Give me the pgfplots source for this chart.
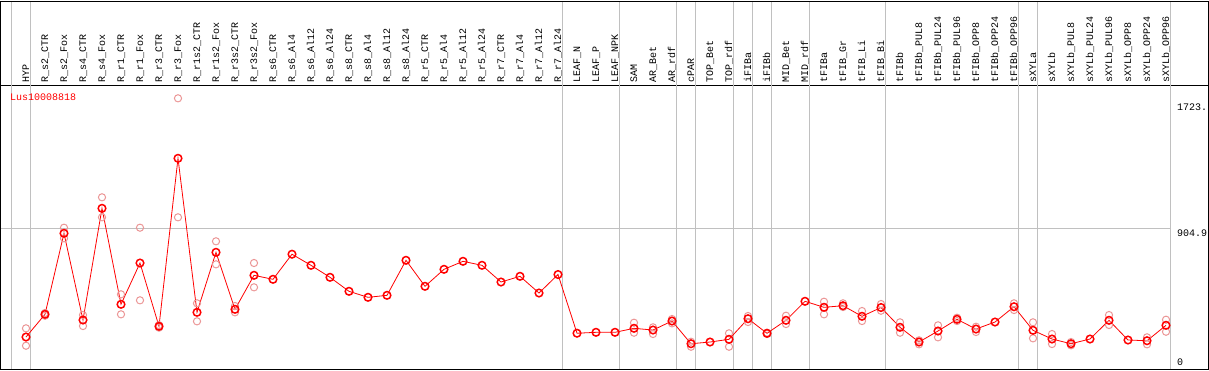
\documentclass[border=0pt]{standalone}
\usepackage{fontspec}
\setmainfont{Liberation Mono}
\usepackage{pgfplots}
\pgfplotsset{compat=1.18}
\definecolor{faint}{RGB}{235,150,150}
\definecolor{gridgray}{RGB}{192,192,192}
\begin{document}
\begin{tikzpicture}
\begin{axis}[
  scale only axis, width=1207pt, height=284pt,
  xmin=-1.31579, xmax=62.2105, ymin=19.5, ymax=1806.8,
  axis line style={line width=1pt},
  xtick={0,...,60},
  xticklabels={HYP,R\_s2\_CTR,R\_s2\_Fox,R\_s4\_CTR,R\_s4\_Fox,R\_r1\_CTR,R\_r1\_Fox,R\_r3\_CTR,R\_r3\_Fox,R\_r1s2\_CTR,R\_r1s2\_Fox,R\_r3s2\_CTR,R\_r3s2\_Fox,R\_s6\_CTR,R\_s6\_Al4,R\_s6\_Al12,R\_s6\_Al24,R\_s8\_CTR,R\_s8\_Al4,R\_s8\_Al12,R\_s8\_Al24,R\_r5\_CTR,R\_r5\_Al4,R\_r5\_Al12,R\_r5\_Al24,R\_r7\_CTR,R\_r7\_Al4,R\_r7\_Al12,R\_r7\_Al24,LEAF\_N,LEAF\_P,LEAF\_NPK,SAM,AR\_Bet,AR\_rdf,cPAR,TOP\_Bet,TOP\_rdf,iFIBa,iFIBb,MID\_Bet,MID\_rdf,tFIBa,tFIB\_Gr,tFIB\_Li,tFIB\_Bi,tFIBb,tFIBb\_PUL8,tFIBb\_PUL24,tFIBb\_PUL96,tFIBb\_OPP8,tFIBb\_OPP24,tFIBb\_OPP96,sXYLa,sXYLb,sXYLb\_PUL8,sXYLb\_PUL24,sXYLb\_PUL96,sXYLb\_OPP8,sXYLb\_OPP24,sXYLb\_OPP96},
  xticklabel pos=right,
  xtick style={draw=none}, major tick length=0pt,
  ytick=\empty,
  xticklabel style={rotate=90, anchor=west, inner xsep=2pt, inner ysep=0pt,
    text height=7pt, text depth=1pt, font=\fontsize{10}{12}\selectfont},
  clip=false,
]
% vertical separators (full height, through header)
\draw[gridgray, line width=1pt]
  (axis cs:-0.753,19.5) -- (axis cs:-0.753,2335.4)
  (axis cs:0.247,19.5) -- (axis cs:0.247,2335.4)
  (axis cs:28.247,19.5) -- (axis cs:28.247,2335.4)
  (axis cs:31.247,19.5) -- (axis cs:31.247,2335.4)
  (axis cs:34.247,19.5) -- (axis cs:34.247,2335.4)
  (axis cs:35.247,19.5) -- (axis cs:35.247,2335.4)
  (axis cs:37.247,19.5) -- (axis cs:37.247,2335.4)
  (axis cs:38.247,19.5) -- (axis cs:38.247,2335.4)
  (axis cs:39.247,19.5) -- (axis cs:39.247,2335.4)
  (axis cs:41.247,19.5) -- (axis cs:41.247,2335.4)
  (axis cs:45.247,19.5) -- (axis cs:45.247,2335.4)
  (axis cs:52.247,19.5) -- (axis cs:52.247,2335.4)
  (axis cs:53.247,19.5) -- (axis cs:53.247,2335.4)
  (axis cs:60.247,19.5) -- (axis cs:60.247,2335.4);
% horizontal midline
\draw[gridgray, line width=1pt] (axis cs:-1.31579,904.9) -- (axis cs:60.247,904.9);
% header frame
\draw[line width=1pt] (axis cs:-1.31579,1806.8) -- (axis cs:-1.31579,2335.4) -- (axis cs:62.2105,2335.4) -- (axis cs:62.2105,1806.8);

% replicates
\addplot[only marks, mark=o, mark size=3.6pt, faint, mark options={line width=1pt}] coordinates {
(0,275.6)(0,166.1)(1,355)(1,372)(2,908.8)(2,842.0)(3,359.3)(3,290.1)
(4,1100.1)(4,974.2)(5,489.6)(5,363.7)(6,908.8)(6,451.9)(7,280)(7,296)
(8,1723.1)(8,974.2)(9,433.0)(9,319.7)(10,823.2)(10,678.4)(11,416.0)(11,376.3)
(12,686.6)(12,533.7)(32,310.9)(32,248.0)(33,281.9)(33,239.8)(34,334.2)(34,307.1)
(35,191.3)(35,159.8)(37,244.2)(37,159.8)(38,353.1)(38,315.3)(39,240)(39,248)
(40,354.9)(40,302.7)(42,443.0)(42,363.7)(43,433.0)(43,409.7)(44,384.5)(44,321.6)
(45,428.6)(45,386.4)(46,313.4)(46,248.0)(47,200.1)(47,175.0)(48,294.5)(48,219.0)
(49,342.4)(49,321.6)(50,285.7)(50,252.4)(52,433.0)(52,390.8)(53,313.4)(53,212.7)
(54,239.8)(54,176.8)(55,189.4)(55,168.7)(57,359.3)(57,296.4)(59,219.0)(59,175.0)
(60,329.8)(60,254.2)
};
% means
\addplot[red, line width=0.8pt, mark=o, mark size=3.8pt, mark options={line width=1.5pt}] coordinates {
(0,220.9)(1,363.7)(2,873.5)(3,327.9)(4,1030.8)(5,426.7)(6,686.6)(7,288.2)
(8,1345.5)(9,376.3)(10,753.9)(11,395.2)(12,609.2)(13,584.0)(14,742.0)(15,672.1)
(16,596.6)(17,508.5)(18,470.7)(19,483.3)(20,703.6)(21,540.0)(22,646.9)(23,697.3)
(24,672.1)(25,567.0)(26,602.9)(27,497.8)(28,614.2)(29,244.8)(30,250.5)(31,250.5)
(32,275.6)(33,264.9)(34,321.6)(35,178.7)(36,189.4)(37,206.4)(38,336.1)(39,244.2)
(40,326.0)(41,445.6)(42,407.8)(43,417.9)(44,351.2)(45,406.5)(46,281.9)(47,189.4)
(48,258.7)(49,332.3)(50,271.2)(51,315.3)(52,411.6)(53,263.1)(54,208.3)(55,178.7)
(56,208.3)(57,326.0)(58,202.0)(59,197.6)(60,294.5)
};
% texts
\node[anchor=base west, inner sep=0pt, red, font=\fontsize{10}{12}\selectfont] at (axis cs:-0.842,1708.6) {Lus10008818};
\node[anchor=base west, inner sep=0pt, font=\fontsize{10}{12}\selectfont] at (axis cs:60.58,1645.7) {1723.};
\node[anchor=base west, inner sep=0pt, font=\fontsize{10}{12}\selectfont] at (axis cs:60.58,856.5) {904.9};
\node[anchor=base west, inner sep=0pt, font=\fontsize{10}{12}\selectfont] at (axis cs:60.58,44.7) {0};
\end{axis}
\pgfresetboundingbox
\path[use as bounding box] ([shift={(-1pt,-1pt)}]current axis.south west) rectangle ([shift={(1pt,85pt)}]current axis.north east);
\end{tikzpicture}
\end{document}
